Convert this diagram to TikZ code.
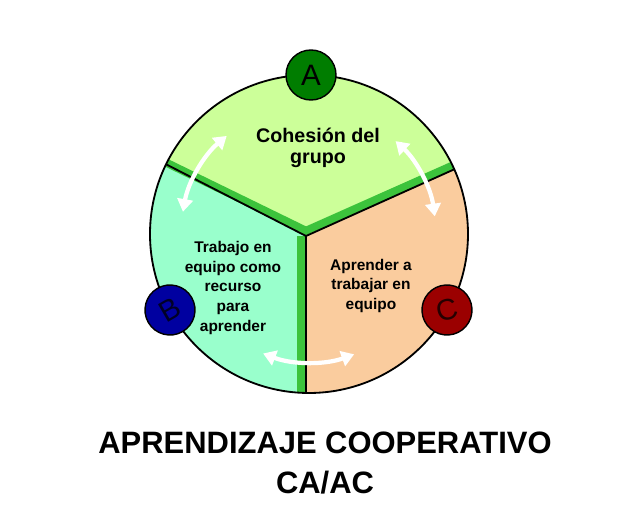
\documentclass[tikz,border=0pt]{standalone}
\usepackage{fontspec}
\setmainfont{Liberation Sans}
\usetikzlibrary{arrows.meta}
\definecolor{verdeclaro}{RGB}{204,255,153}
\definecolor{menta}{RGB}{153,255,204}
\definecolor{melocoton}{RGB}{250,204,158}
\definecolor{verdeborde}{RGB}{60,195,60}
\definecolor{verdeA}{RGB}{0,125,0}
\definecolor{azulB}{RGB}{0,0,160}
\definecolor{rojoC}{RGB}{155,0,0}
\tikzset{
	letra/.style = {circle, draw = black, line width = 1pt, minimum size = 1.25cm, inner sep = 0pt,
		font = \fontsize{21}{24}\selectfont},
	texto/.style = {align = center, inner sep = 0pt, font = \bfseries\fontsize{11}{14.2}\selectfont},
	banda/.style = {verdeborde, line width = 5.7pt},
	borde/.style = {black, line width = 1.3pt},
	flecha/.style = {white, line width = 3pt, {Triangle[width = 11pt, length = 9pt]}-{Triangle[width = 11pt, length = 9pt]}}
}
\begin{document}
\begin{tikzpicture}[x = 0.025cm, y = 0.025cm]
		\useasboundingbox (-309,-296) rectangle (323,234);
		% sectores
		\fill[verdeclaro] (-3,-2) -- (154:159) arc[start angle = 154, end angle = 24, radius = 159] -- cycle;
		\fill[menta] (-3,-2) -- (268.9:159) arc[start angle = 268.9, end angle = 154, radius = 159] -- cycle;
		\fill[melocoton] (-3,-2) -- (24:159) arc[start angle = 24, end angle = -91.1, radius = 159] -- cycle;
		\begin{scope}
			\clip (0,0) circle (159);
			\draw[banda] (-1,2.2) -- ++(154:200);
			\draw[banda] (-5,2.3) -- ++(24:200);
			\draw[banda] (-7.5,-2) -- ++(0,-200);
		\end{scope}
		\draw[borde] (-3,-2) -- (154:159);
		\draw[borde] (-3,-2) -- (24:159);
		\draw[borde] (-3,-2) -- (268.9:159);
		\draw[borde] (0,0) circle (159);
		% flechas
		\draw[flecha] (170:128) arc[start angle = 170, end angle = 130, radius = 128];
		\draw[flecha] (47:127) arc[start angle = 47, end angle = 8, radius = 127];
		\draw[flecha] (249:128) arc[start angle = 249, end angle = 290, radius = 130];
		% textos
		\node[texto, font = \bfseries\fontsize{14}{14.5}\selectfont] (cohesion) at (9,86) {Cohesión del\\grupo};
		\node[texto] (trabajo) at (-76,-54) {Trabajo en\\equipo como\\recurso\\para\\aprender};
		\node[texto] (aprender) at (62,-52) {Aprender a\\trabajar en\\equipo};
		% letras
		\node[letra, fill = verdeA] (A) at (2,159) {A};
		\node[letra, fill = azulB, text = black!85!blue, rotate = 30] (B) at (-139,-76) {B};
		\node[letra, fill = rojoC, text = black!85!red, rotate = 15] (C) at (138,-76) {C};
		% titulo
		\node[texto, anchor = north, font = \bfseries\fontsize{22}{28.4}\selectfont] (titulo) at (16,-198)
			{APRENDIZAJE COOPERATIVO\\CA/AC};
	\end{tikzpicture}
\end{document}
